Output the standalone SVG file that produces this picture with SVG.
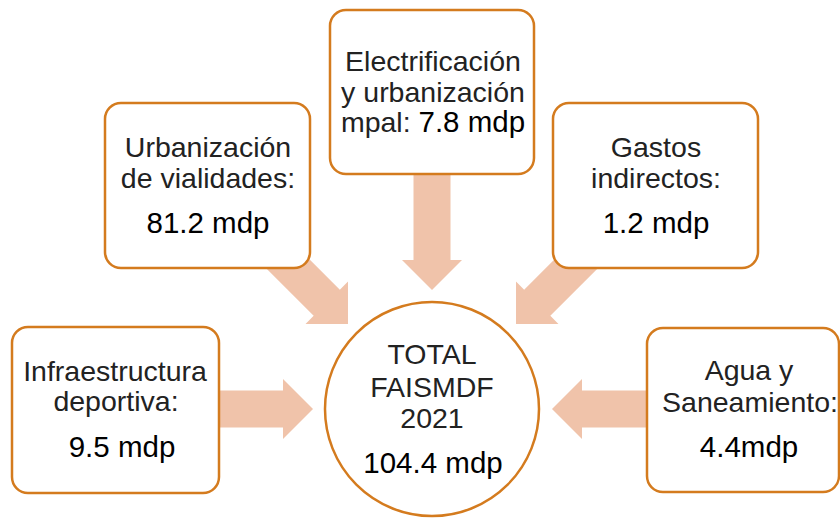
<svg xmlns="http://www.w3.org/2000/svg" width="840" height="519" viewBox="0 0 840 519">
  <style>
    .box { fill: #ffffff; stroke: #D47B1E; stroke-width: 2.5; }
    .arrow { fill: #F0C3AA; stroke: none; }
    text { font-family: "Liberation Sans", Arial, sans-serif; font-size: 28.5px; text-anchor: middle; }
    .lbl { fill: #222222; }
    .amt { fill: #000000; font-size: 29.5px; }
  </style>
  <defs>
    <path id="arr103" d="M0,-18.5 H73 V-30 L103,0 L73,30 V18.5 H0 Z"/>
    <path id="arr125" d="M0,-18.5 H95 V-30 L125,0 L95,30 V18.5 H0 Z"/>
    <path id="arr110" d="M0,-18.5 H80 V-30 L110,0 L80,30 V18.5 H0 Z"/>
  </defs>
  <rect width="840" height="519" fill="#ffffff"/>

  <g id="connectors">
    <use href="#arr103" class="arrow" transform="translate(210,409)"/>
    <use href="#arr103" class="arrow" transform="translate(655,409) rotate(180)"/>
    <use href="#arr125" class="arrow" transform="translate(432,165) rotate(90)"/>
    <use href="#arr110" class="arrow" transform="translate(270.2,246.2) rotate(45)"/>
    <use href="#arr110" class="arrow" transform="translate(593.8,246.2) rotate(135)"/>
  </g>

  <g id="node-urbanizacion">
    <rect class="box" x="105" y="103" width="205" height="165" rx="16"/>
    <text class="lbl" x="208" y="157">Urbanización</text>
    <text class="lbl" x="208" y="188">de vialidades:</text>
    <text class="amt" x="208" y="233">81.2 mdp</text>
  </g>

  <g id="node-electrificacion">
    <rect class="box" x="330" y="10" width="204" height="164" rx="16"/>
    <text class="lbl" x="433" y="71">Electrificación</text>
    <text class="lbl" x="433" y="102">y urbanización</text>
    <text class="lbl" x="433" y="132">mpal: <tspan class="amt">7.8 mdp</tspan></text>
  </g>

  <g id="node-gastos">
    <rect class="box" x="553" y="103" width="205" height="165" rx="16"/>
    <text class="lbl" x="656" y="157">Gastos</text>
    <text class="lbl" x="656" y="188">indirectos:</text>
    <text class="amt" x="656" y="233">1.2 mdp</text>
  </g>

  <g id="node-infraestructura">
    <rect class="box" x="12" y="327" width="207" height="166" rx="16"/>
    <text class="lbl" x="115" y="381">Infraestructura</text>
    <text class="lbl" x="116" y="411">deportiva:</text>
    <text class="amt" x="122" y="457">9.5 mdp</text>
  </g>

  <g id="node-agua">
    <rect class="box" x="647" y="328" width="192" height="164" rx="16"/>
    <text class="lbl" x="749" y="380">Agua y</text>
    <text class="lbl" x="750" y="412">Saneamiento:</text>
    <text class="amt" x="749" y="457">4.4mdp</text>
  </g>

  <g id="node-total">
    <circle class="box" cx="432" cy="409" r="107"/>
    <text class="lbl" x="432" y="364">TOTAL</text>
    <text class="lbl" x="432" y="397">FAISMDF</text>
    <text class="lbl" x="432" y="428">2021</text>
    <text class="amt" x="433" y="473">104.4 mdp</text>
  </g>
</svg>
